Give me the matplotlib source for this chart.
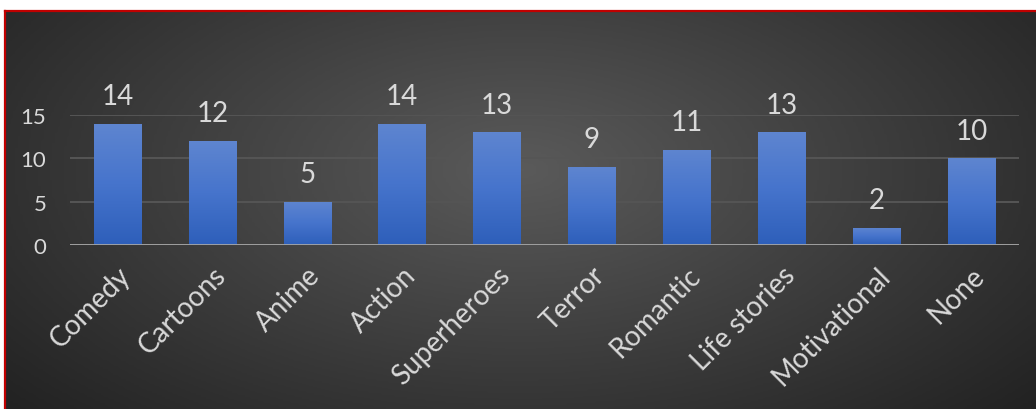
import numpy as np
import matplotlib
matplotlib.use("Agg")
import matplotlib.pyplot as plt
from matplotlib.colors import LinearSegmentedColormap

# genre preferences
genres = ['Comedy', 'Cartoons', 'Anime', 'Action', 'Superheroes',
          'Terror', 'Romantic', 'Life stories', 'Motivational', 'None']
counts = [14, 12, 5, 14, 13, 9, 11, 13, 2, 10]
yticks = [0, 5, 10, 15]

W, H = 1036, 410
plt.rcParams['font.family'] = ['Lato', 'DejaVu Sans']
txt = '#d9d9d9'

fig = plt.figure(figsize=(W / 100, H / 100), dpi=100)
fig.patch.set_facecolor('white')

############################# BACKGROUND #############################
bg = fig.add_axes([5 / W, 0, 1 - 5 / W, (H - 12) / H])
bg.set_axis_off()
yy, xx = np.mgrid[0:1:200j, 0:1:400j]
r = np.sqrt(((xx - 0.5) / 0.75) ** 2 + ((yy - 0.6) / 1.0) ** 2)
shade = np.clip(1 - r, 0, 1)
bg_cmap = LinearSegmentedColormap.from_list('bg', ['#222222', '#5a5a5a'])
bg.imshow(shade, cmap=bg_cmap, aspect='auto', extent=[0, 1, 0, 1], origin='lower')
bg.set_xlim(0, 1)
bg.set_ylim(0, 1)
# red outline on the top and left edges
fig.add_artist(plt.Line2D([5 / W, 1], [(H - 11.5) / H] * 2, color='#c00000', lw=1.6))
fig.add_artist(plt.Line2D([5 / W] * 2, [0, (H - 11.5) / H], color='#c00000', lw=1.6))

############################# BARS #############################
ax = fig.add_axes([70 / W, (H - 246) / H, 949 / W, 130 / H])
ax.patch.set_alpha(0)
x = np.arange(len(genres))
bars = ax.bar(x, counts, width=0.5, color='#4472c4', zorder=3)

bar_cmap = LinearSegmentedColormap.from_list('bar', ['#2e5fba', '#4674cc', '#5e85d0'])
grad = np.linspace(0, 1, 100).reshape(-1, 1)
for b in bars:
    bx, by = b.get_x(), b.get_y()
    im = ax.imshow(grad, cmap=bar_cmap, aspect='auto', origin='lower',
                   extent=[bx, bx + b.get_width(), by, by + b.get_height()], zorder=4)
    im.set_clip_path(b)

for xi, v in zip(x, counts):
    ax.text(xi, v + 1.7, str(v), ha='center', va='bottom', color=txt,
            fontsize=20, clip_on=False)

ax.set_xlim(-0.5, len(genres) - 0.5)
ax.set_ylim(0, 15)
ax.set_yticks(yticks)
ax.set_yticklabels([str(t) for t in yticks], color=txt, fontsize=16)
ax.set_xticks(x)
ax.set_xticklabels(genres, rotation=45, ha='right', rotation_mode='anchor',
                   color=txt, fontsize=20)
ax.tick_params(axis='both', length=0)
ax.tick_params(axis='y', pad=17)
ax.tick_params(axis='x', pad=12)
for s in ax.spines.values():
    s.set_visible(False)
ax.grid(axis='y', color='#555555', lw=1.4, zorder=1)
ax.axhline(0, color='#a6a6a6', lw=2, zorder=5)

fig.savefig('out.png', dpi=100)
